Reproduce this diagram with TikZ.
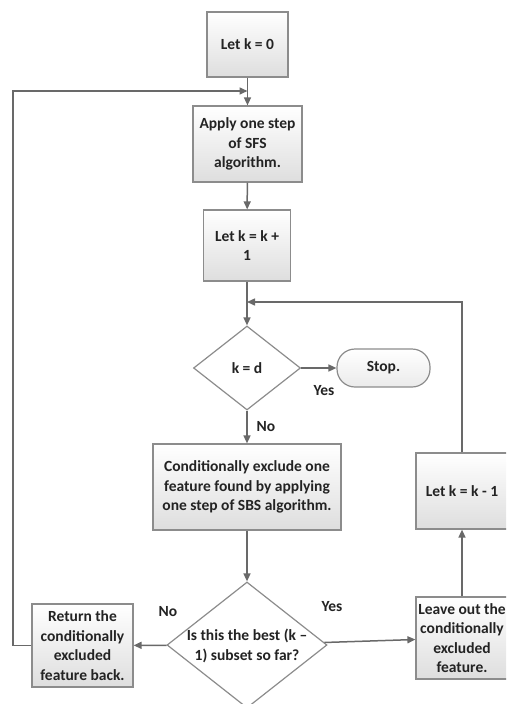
\documentclass[tikz,border=0pt]{standalone}
\usepackage{fontspec}
\setmainfont{Carlito}
\usetikzlibrary{arrows.meta}
\usetikzlibrary{shapes.geometric}
\definecolor{linegray}{RGB}{105,105,105}
\definecolor{edgegray}{RGB}{140,140,140}
\definecolor{textgray}{RGB}{35,35,35}

\begin{document}
\begin{tikzpicture}[x=1pt, y=-1pt,
    every node/.style={font=\fontsize{15.5}{19.5}\selectfont\bfseries, text=textgray, align=center},
    box/.style={rectangle, draw=edgegray, line width=1.2pt, top color=white, bottom color=black!13, inner sep=2pt},
    decision/.style={diamond, draw=edgegray, line width=1.2pt, fill=white, inner sep=0pt},
    term/.style={rectangle, rounded corners=18pt, draw=edgegray, line width=1.2pt, top color=white, bottom color=black!8},
    arrow/.style={linegray, line width=1.5pt, -{Triangle[length=8pt,width=7pt]}},
    tag/.style={inner sep=0pt}]

  \useasboundingbox (0,0) rectangle (506,704);
  \clip (0,0) rectangle (506,704);

  \node[box, minimum width=81, minimum height=65] (init) at (247.5,44.5) {Let k = 0};
  \node[box, minimum width=109, minimum height=76] (sfs) at (247.5,144) {Apply one step\\of SFS\\algorithm.};
  \node[box, minimum width=87, minimum height=71] (inc) at (247,245.5) {Let k = k +\\1};
  \node[decision, minimum width=107, minimum height=84] (check) at (247,368) {k = d};
  \node[term, minimum width=93, minimum height=38] (stop) at (383.5,368) {Stop.};
  \node[box, minimum width=188, minimum height=86] (sbs) at (247,487) {Conditionally exclude one\\feature found by applying\\one step of SBS algorithm.};
  \node[decision, minimum width=160, minimum height=126] (best) at (247,645) {};
  \node[tag] (bestText) at (247,646) {Is this the best (k \textendash\\1) subset so far?};
  \node[box, minimum width=101, minimum height=83] (back) at (82.5,645.5) {Return the\\conditionally\\excluded\\feature back.};
  \node[box, minimum width=92, minimum height=82] (leave) at (462,638) {Leave out the\\conditionally\\excluded\\feature.};
  \node[box, minimum width=92, minimum height=76] (dec) at (462,491) {Let k = k - 1};

  \coordinate (join1) at (247.5,91);
  \coordinate (left) at (13,91);
  \coordinate (join2) at (247,302);

  \draw[arrow] (init) -- (sfs);
  \draw[arrow] (sfs) -- (inc);
  \draw[arrow] (inc) -- (check);
  \draw[arrow] (check) -- (stop);
  \draw[arrow] (check) -- (sbs);
  \draw[arrow] (sbs) -- (best);
  \draw[arrow] (best) -- (back);
  \draw[arrow] (best) -- (leave);
  \draw[arrow] (leave) -- (dec);
  \draw[arrow] (back.west) -| (left) -- (join1);
  \draw[arrow] (dec.north) |- (join2);

  \node[tag] (yes1) at (324,391) {Yes};
  \node[tag] (no1) at (266,427) {No};
  \node[tag] (no2) at (168,612) {No};
  \node[tag] (yes2) at (332,607) {Yes};
\end{tikzpicture}
\end{document}
